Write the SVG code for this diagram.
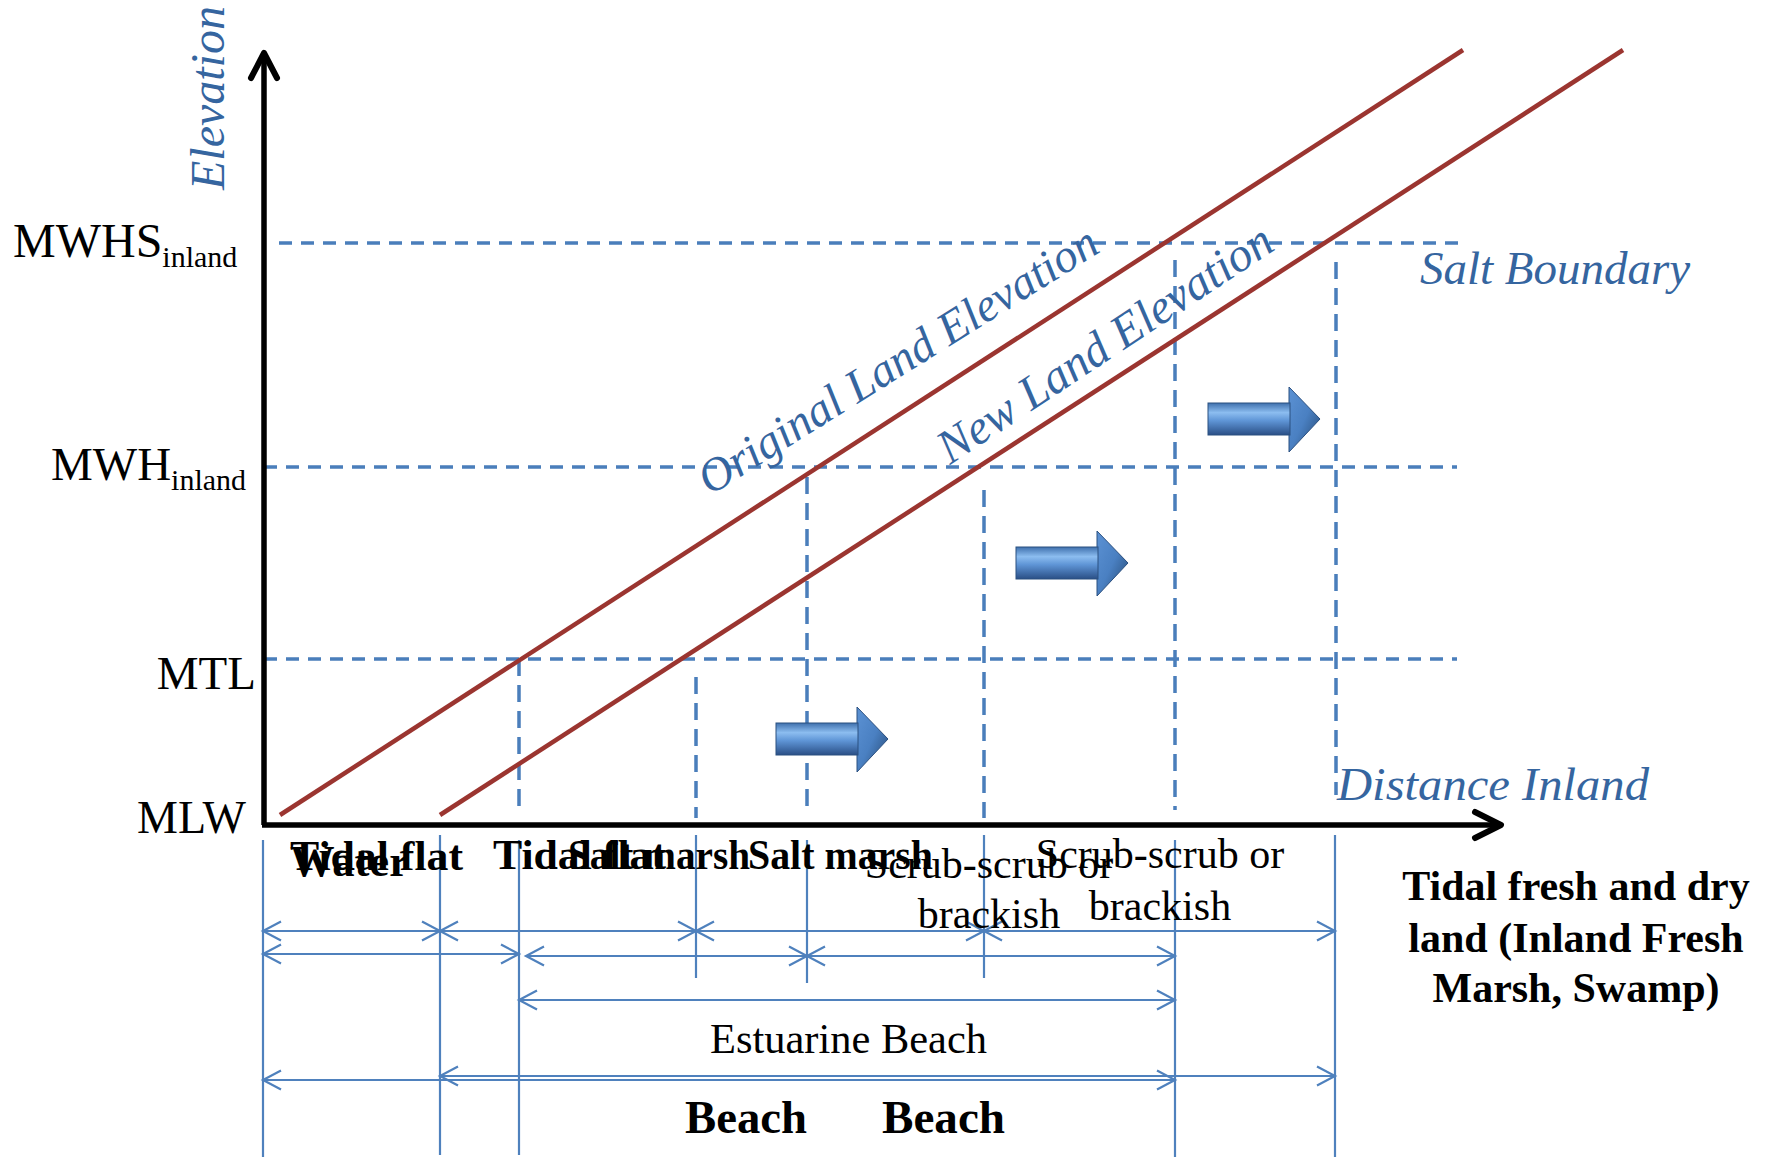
<svg xmlns="http://www.w3.org/2000/svg" width="1767" height="1157" viewBox="0 0 1767 1157">
<style>
.serif{font-family:"Liberation Serif","Times New Roman",serif;fill:#000}
.bold{font-weight:bold}
.blue{font-family:"Liberation Serif","Times New Roman",serif;font-style:italic;fill:#35659f}
.dash{stroke:#4a7ebb;stroke-width:3.5;fill:none}
.h{stroke-dasharray:13 9}
.v{stroke-dasharray:17 9}
.dim{stroke:#4f81bd;stroke-width:2.2;fill:none}
.land{stroke:#9b3530;stroke-width:4.5;fill:none}
.axis{stroke:#000;stroke-width:5.5;fill:none}
.chev{stroke:#000;stroke-width:6;fill:none;stroke-linecap:round;stroke-linejoin:round}
</style>
<defs>
<marker id="ah" markerUnits="userSpaceOnUse" orient="auto-start-reverse" overflow="visible" markerWidth="20" markerHeight="20" refX="0" refY="0" viewBox="-20 -10 20 20">
<path d="M-18,-9.5 L0,0 L-18,9.5" fill="none" stroke="#4f81bd" stroke-width="2.2"/>
</marker>
<linearGradient id="gb" x1="0" y1="0" x2="0" y2="1">
<stop offset="0" stop-color="#3f70ad"/>
<stop offset="0.3" stop-color="#8cbdf0"/>
<stop offset="0.55" stop-color="#5f95d6"/>
<stop offset="1" stop-color="#2a4f86"/>
</linearGradient>
<linearGradient id="gh" x1="0" y1="0" x2="1" y2="1">
<stop offset="0" stop-color="#5c92d4"/>
<stop offset="0.5" stop-color="#4a80c2"/>
<stop offset="1" stop-color="#23466f"/>
</linearGradient>
<g id="blockArrow">
<polygon points="81,-32 112,0 81,33" fill="url(#gh)" stroke="#2b5080" stroke-width="1"/>
<rect x="0" y="-16" width="82" height="32" fill="url(#gb)" stroke="#2b5080" stroke-width="1"/>
</g>
</defs>
<rect width="1767" height="1157" fill="#fff"/>

<g id="grid">
<line class="dash h" x1="279" y1="243" x2="1465" y2="243"/>
<line class="dash h" x1="264" y1="467" x2="1457" y2="467"/>
<line class="dash h" x1="264" y1="659" x2="1457" y2="659"/>
<line class="dash v" x1="519" y1="659" x2="519" y2="810"/>
<line class="dash v" x1="696" y1="677" x2="696" y2="818"/>
<line class="dash v" x1="807" y1="477" x2="807" y2="810"/>
<line class="dash v" x1="984" y1="490" x2="984" y2="818"/>
<line class="dash v" x1="1175" y1="260" x2="1175" y2="810"/>
<line class="dash v" x1="1336" y1="262" x2="1336" y2="795"/>
</g>

<g id="land-lines">
<line class="land" x1="280" y1="815" x2="1463" y2="50"/>
<line class="land" x1="440" y1="815" x2="1623" y2="50"/>
</g>

<g id="axes">
<line class="axis" x1="264" y1="56" x2="264" y2="825"/>
<polyline class="chev" points="251,78 264,53 277,78"/>
<line class="axis" x1="262" y1="825" x2="1498" y2="825"/>
<polyline class="chev" points="1475,812 1501,825 1475,838"/>
</g>

<g id="shift-arrows">
<use href="#blockArrow" x="776" y="739"/>
<use href="#blockArrow" x="1016" y="563"/>
<use href="#blockArrow" x="1208" y="419"/>
</g>

<g id="connectors">
<line class="dim" x1="263" y1="840" x2="263" y2="1157"/>
<line class="dim" x1="440" y1="835" x2="440" y2="1155"/>
<line class="dim" x1="519" y1="840" x2="519" y2="1155"/>
<line class="dim" x1="696" y1="835" x2="696" y2="978"/>
<line class="dim" x1="807" y1="840" x2="807" y2="983"/>
<line class="dim" x1="984" y1="835" x2="984" y2="978"/>
<line class="dim" x1="1175" y1="840" x2="1175" y2="1157"/>
<line class="dim" x1="1335" y1="835" x2="1335" y2="1157"/>

<line class="dim" x1="263" y1="931" x2="440" y2="931" marker-start="url(#ah)" marker-end="url(#ah)"/>
<line class="dim" x1="440" y1="931" x2="696" y2="931" marker-start="url(#ah)" marker-end="url(#ah)"/>
<line class="dim" x1="696" y1="931" x2="984" y2="931" marker-start="url(#ah)" marker-end="url(#ah)"/>
<line class="dim" x1="984" y1="931" x2="1335" y2="931" marker-start="url(#ah)" marker-end="url(#ah)"/>

<line class="dim" x1="263" y1="954" x2="519" y2="954" marker-start="url(#ah)" marker-end="url(#ah)"/>
<line class="dim" x1="526" y1="956" x2="807" y2="956" marker-start="url(#ah)" marker-end="url(#ah)"/>
<line class="dim" x1="807" y1="956" x2="1175" y2="956" marker-start="url(#ah)" marker-end="url(#ah)"/>

<line class="dim" x1="519" y1="1000" x2="1175" y2="1000" marker-start="url(#ah)" marker-end="url(#ah)"/>

<line class="dim" x1="263" y1="1080" x2="1175" y2="1080" marker-start="url(#ah)" marker-end="url(#ah)"/>
<line class="dim" x1="440" y1="1076" x2="1335" y2="1076" marker-start="url(#ah)" marker-end="url(#ah)"/>
</g>

<g id="axis-labels">
<text class="serif" x="13" y="257" font-size="48">MWHS<tspan font-size="30" dy="10">inland</tspan></text>
<text class="serif" x="51" y="480" font-size="47">MWH<tspan font-size="30" dy="10">inland</tspan></text>
<text class="serif" x="256" y="689" font-size="47" text-anchor="end">MTL</text>
<text class="serif" x="246" y="833" font-size="46" text-anchor="end">MLW</text>
<text class="blue" font-size="48" transform="translate(224,190) rotate(-90)">Elevation</text>
<text class="blue" x="1420" y="284" font-size="47">Salt Boundary</text>
<text class="blue" x="1337" y="800" font-size="47" textLength="312" lengthAdjust="spacingAndGlyphs">Distance Inland</text>
<text class="blue" font-size="47" transform="translate(710,496) rotate(-32)">Original Land Elevation</text>
<text class="blue" font-size="48" transform="translate(950,465) rotate(-33.5)">New Land Elevation</text>
</g>

<g id="zone-labels">
<text class="serif bold" x="290" y="870" font-size="42" textLength="173" lengthAdjust="spacingAndGlyphs">Tidal flat</text>
<text class="serif bold" x="290" y="876" font-size="44" textLength="119" lengthAdjust="spacingAndGlyphs">Water</text>
<text class="serif bold" x="493" y="869" font-size="42" textLength="173" lengthAdjust="spacingAndGlyphs">Tidal flat</text>
<text class="serif bold" x="568" y="869" font-size="42" textLength="182" lengthAdjust="spacingAndGlyphs">Salt marsh</text>
<text class="serif bold" x="748" y="869" font-size="42" textLength="185" lengthAdjust="spacingAndGlyphs">Salt marsh</text>
<text class="serif" x="989" y="878" font-size="42" text-anchor="middle">Scrub-scrub or</text>
<text class="serif" x="989" y="928" font-size="42" text-anchor="middle">brackish</text>
<text class="serif" x="1160" y="868" font-size="42" text-anchor="middle">Scrub-scrub or</text>
<text class="serif" x="1160" y="920" font-size="42" text-anchor="middle">brackish</text>
<text class="serif bold" x="1576" y="900" font-size="42" text-anchor="middle">Tidal fresh and dry</text>
<text class="serif bold" x="1576" y="952" font-size="42" text-anchor="middle">land (Inland Fresh</text>
<text class="serif bold" x="1576" y="1002" font-size="42" text-anchor="middle">Marsh, Swamp)</text>
<text class="serif" x="710" y="1053" font-size="42" textLength="277" lengthAdjust="spacingAndGlyphs">Estuarine Beach</text>
<text class="serif bold" x="685" y="1133" font-size="46" textLength="122" lengthAdjust="spacingAndGlyphs">Beach</text>
<text class="serif bold" x="882" y="1133" font-size="46" textLength="123" lengthAdjust="spacingAndGlyphs">Beach</text>
</g>
</svg>
